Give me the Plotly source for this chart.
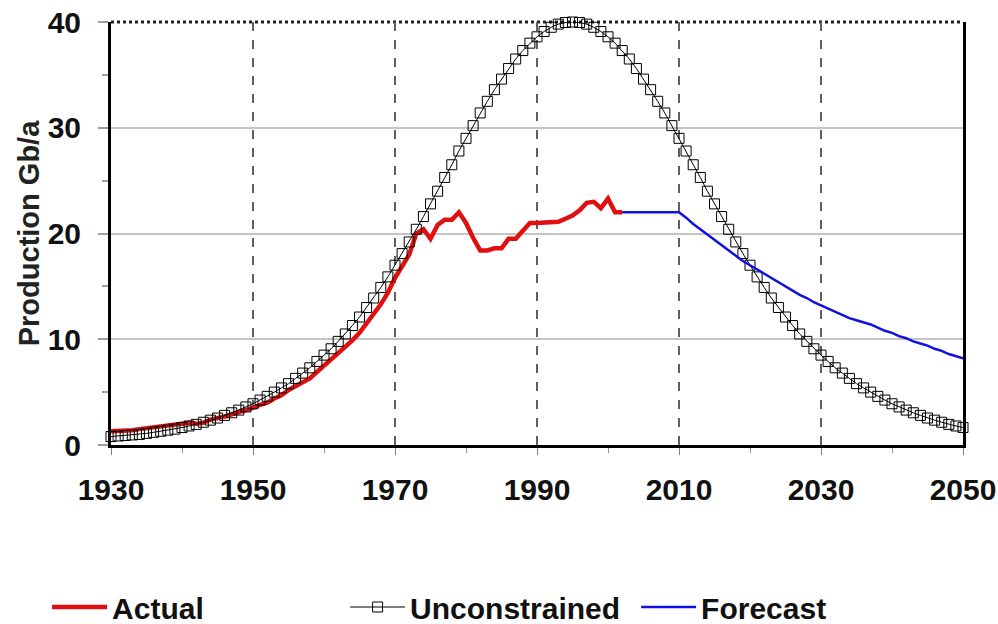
import plotly.graph_objects as go

# ---------------- data ----------------
years_unc = list(range(1930, 2051))
unconstrained = [
    0.8, 0.85, 0.9, 0.95, 1.0, 1.1, 1.2, 1.3, 1.4, 1.5,          # 1930-1939
    1.65, 1.8, 1.95, 2.15, 2.35, 2.55, 2.8, 3.05, 3.3, 3.6,      # 1940-1949
    3.9, 4.25, 4.6, 5.0, 5.4, 5.8, 6.3, 6.8, 7.3, 7.9,           # 1950-1959
    8.5, 9.1, 9.8, 10.5, 11.3, 12.1, 13.0, 13.9, 14.9, 15.9,     # 1960-1969
    17.0, 18.1, 19.2, 20.4, 21.6, 22.8, 24.0, 25.3, 26.5, 27.8,  # 1970-1979
    29.0, 30.2, 31.4, 32.5, 33.6, 34.6, 35.6, 36.5, 37.3, 38.0,  # 1980-1989
    38.6, 39.1, 39.5, 39.8, 39.95, 40.0, 39.95, 39.8, 39.5, 39.1,  # 1990-1999
    38.6, 38.0, 37.3, 36.5, 35.6, 34.6, 33.6, 32.5, 31.4, 30.2,  # 2000-2009
    29.0, 27.8, 26.5, 25.3, 24.0, 22.8, 21.6, 20.4, 19.2, 18.1,  # 2010-2019
    17.0, 15.9, 14.9, 13.9, 13.0, 12.1, 11.3, 10.5, 9.8, 9.1,    # 2020-2029
    8.5, 7.9, 7.3, 6.8, 6.3, 5.8, 5.4, 5.0, 4.6, 4.25,           # 2030-2039
    3.9, 3.6, 3.3, 3.05, 2.8, 2.55, 2.35, 2.15, 1.95, 1.8,       # 2040-2049
    1.65,                                                        # 2050
]

years_actual = list(range(1930, 2003))
actual = [
    1.3, 1.3, 1.3, 1.4, 1.5, 1.6, 1.7, 1.8, 1.8, 1.9,            # 1930-1939
    2.0, 2.1, 2.0, 2.1, 2.4, 2.5, 2.7, 2.9, 3.1, 3.2,            # 1940-1949
    3.5, 3.8, 4.0, 4.4, 4.7, 5.2, 5.6, 6.0, 6.3, 6.9,            # 1950-1959
    7.5, 8.0, 8.6, 9.2, 9.9, 10.6, 11.5, 12.3, 13.3, 14.4,       # 1960-1969
    15.8, 16.9, 18.0, 20.0, 20.4, 19.5, 20.8, 21.3, 21.3, 22.0,  # 1970-1979
    21.0, 19.6, 18.4, 18.4, 18.6, 18.6, 19.5, 19.5, 20.2, 21.0,  # 1980-1989
    21.0, 21.0, 21.0, 21.1, 21.4, 21.7, 22.2, 22.9, 23.0, 22.4,  # 1990-1999
    23.3, 22.0, 22.0,                                            # 2000-2002
]

years_forecast = list(range(2002, 2051))
forecast = [
    22.0, 22.0, 22.0, 22.0, 22.0, 22.0, 22.0, 22.0,              # 2002-2009
    22.0, 21.5, 20.9, 20.4, 19.9, 19.4, 18.9, 18.4, 17.9, 17.4,  # 2010-2019
    17.0, 16.6, 16.2, 15.8, 15.4, 15.0, 14.6, 14.2, 13.9, 13.5,  # 2020-2029
    13.2, 12.9, 12.6, 12.3, 12.0, 11.8, 11.6, 11.4, 11.1, 10.8,  # 2030-2039
    10.6, 10.3, 10.1, 9.8, 9.6, 9.4, 9.1, 8.9, 8.6, 8.4,         # 2040-2049
    8.2,                                                         # 2050
]

x_ticks = [1930, 1950, 1970, 1990, 2010, 2030, 2050]
y_ticks = [0, 10, 20, 30, 40]

FONT = "Liberation Sans"

fig = go.Figure()

fig.add_trace(go.Scatter(
    x=years_actual, y=actual, name="Actual", mode="lines",
    line=dict(color="#e01010", width=4.5), cliponaxis=False, legendwidth=228,
))
fig.add_trace(go.Scatter(
    x=years_unc, y=unconstrained, name="Unconstrained", mode="lines+markers",
    line=dict(color="#000000", width=1),
    marker=dict(symbol="square-open", size=10, color="#000000", line=dict(width=1)),
    cliponaxis=False, legendwidth=221,
))
fig.add_trace(go.Scatter(
    x=years_forecast, y=forecast, name="Forecast", mode="lines",
    line=dict(color="#1010e0", width=2.5), cliponaxis=False, legendwidth=140,
))

fig.update_layout(
    width=998, height=624,
    margin=dict(l=111, r=35, t=22, b=179, autoexpand=False),
    paper_bgcolor="white", plot_bgcolor="white",
    font=dict(family=FONT, size=30, color="#111111", weight="bold"),
    showlegend=True,
    legend=dict(
        orientation="h", x=-0.075, xanchor="left", y=-0.383, yanchor="middle",
        font=dict(family=FONT, size=30, color="#111111", weight="bold"),
        itemwidth=55, bgcolor="rgba(0,0,0,0)",
    ),
)

fig.update_xaxes(
    range=[1930, 2050], tickvals=x_ticks, ticktext=[str(v) for v in x_ticks],
    showline=True, linecolor="black", linewidth=3, mirror=False,
    showgrid=True, gridcolor="#606060", gridwidth=1.5, griddash="dash",
    ticks="outside", ticklen=7, tickcolor="#808080", tickwidth=1,
    ticklabelstandoff=9, automargin=False,
    minor=dict(dtick=10, tick0=1930, ticks="outside", ticklen=5, tickcolor="#909090", showgrid=False),
    zeroline=False,
    tickfont=dict(family=FONT, size=30, color="#111111", weight="bold"),
)
fig.update_yaxes(
    range=[0, 40], tickvals=y_ticks, ticktext=[str(v) for v in y_ticks],
    showline=True, linecolor="black", linewidth=3, mirror=True,
    showgrid=True, gridcolor="#c4c4c4", gridwidth=2,
    ticks="outside", ticklen=10, tickcolor="#a0a0a0", tickwidth=2,
    ticklabelstandoff=11, automargin=False,
    minor=dict(dtick=5, tick0=0, ticks="outside", ticklen=6, tickcolor="#a0a0a0", showgrid=False),
    zeroline=False,
    title=dict(text="Production Gb/a", standoff=0,
               font=dict(family=FONT, size=29, color="#222222", weight="bold")),
    tickfont=dict(family=FONT, size=30, color="#111111", weight="bold"),
)

# dotted top border of the plot frame
fig.add_shape(type="line", xref="paper", yref="paper", x0=0, x1=1, y0=1, y1=1,
              line=dict(color="#222222", width=3, dash="dot"), layer="below")

fig.write_html("out.html")
